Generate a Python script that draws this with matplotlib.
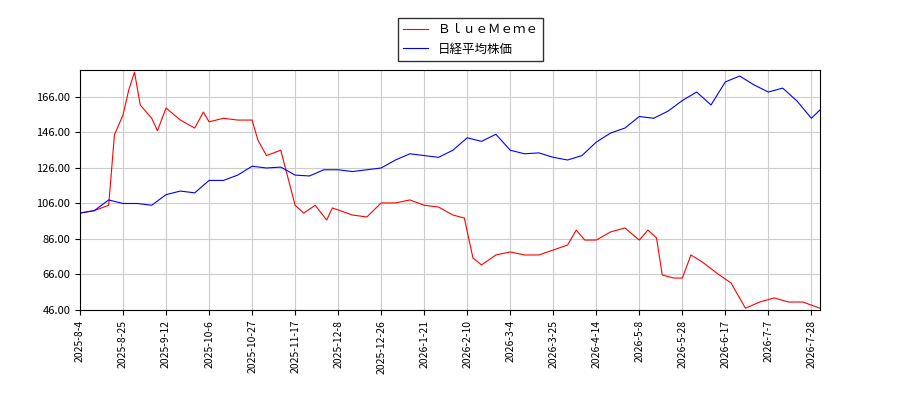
import matplotlib
matplotlib.use("Agg")
import matplotlib.pyplot as plt
import numpy as np

plt.rcParams['font.family'] = ['Noto Sans CJK JP', 'DejaVu Sans']

tick_labels = ["2025-8-4","2025-8-25","2025-9-12","2025-10-6","2025-10-27","2025-11-17",
               "2025-12-8","2025-12-26","2026-1-21","2026-2-10","2026-3-4","2026-3-25",
               "2026-4-14","2026-5-8","2026-5-28","2026-6-17","2026-7-7","2026-7-28"]

nikkei_idx = [0,5,10,15,20,25,30,35,40,45,50,55,60,65,70,75,80,85,90,95,100,105,110,115,120,
              125,130,135,140,145,150,155,160,165,170,175,180,185,190,195,200,205,210,215,220,
              225,230,235,240,245,250,255,258]
nikkei_val = [100.6,102,108,106,106,105,111,113,112,119,119,122,127,126,126.5,122,121.5,125,125,
              124,125,126,130.5,134,133,132,136,143,141,145,136,134,134.5,132,130.5,133,140.6,
              145.7,148.5,155,154,158,164,168.8,161.5,174.5,177.8,172.8,168.8,171,163.7,154,158.7]

blue_idx = [0,5,10,12,15,17,19,21,25,27,30,35,40,43,45,50,55,60,62,65,70,75,78,82,86,88,95,100,
            105,110,115,120,125,130,134,137,140,145,150,155,160,165,170,173,176,180,185,190,195,
            198,201,203,207,210,213,217,222,227,232,237,242,247,252,258]
blue_val = [100.6,102,105,144.6,155.9,170,180,161.5,154,147,159.8,153,148.5,157.5,152,154,153,153,
            141.8,133,136,105,100.6,105,96.7,103.5,99.5,98.4,106.3,106.3,108,105,104,99.5,97.8,
            75.3,71.4,77,78.7,77,77,79.8,82.6,91,85.4,85.4,90,92.2,85.4,91,86.6,65.7,64,64,77,73,
            66.8,61.2,47,50.5,52.8,50.5,50.5,47]

fig = plt.figure(figsize=(9, 4), dpi=100)
ax = fig.add_axes([80/900, 90/400, 740/900, 240/400])
ax.plot(blue_idx, blue_val, color='red', lw=0.8, label='ＢｌｕｅＭｅｍｅ')
ax.plot(nikkei_idx, nikkei_val, color='blue', lw=0.8, label='日経平均株価')
ax.set_xlim(0, 258)
ax.set_ylim(46, 181.2)
ax.set_yticks(np.arange(46, 167, 20))
ax.set_yticklabels([f"{v:.2f}" for v in np.arange(46, 167, 20)], fontsize=8)
ax.set_xticks(np.arange(0, 15*len(tick_labels), 15))
ax.set_xticklabels(tick_labels, rotation=90, fontsize=7.5)
ax.grid(True, color='#cccccc', lw=0.8)
ax.set_axisbelow(True)
fig.legend(loc='upper center', bbox_to_anchor=(0.523, 0.97), fontsize=9,
           fancybox=False, edgecolor='#333333', framealpha=1, handlelength=2)
fig.savefig('out.png', dpi=100)
